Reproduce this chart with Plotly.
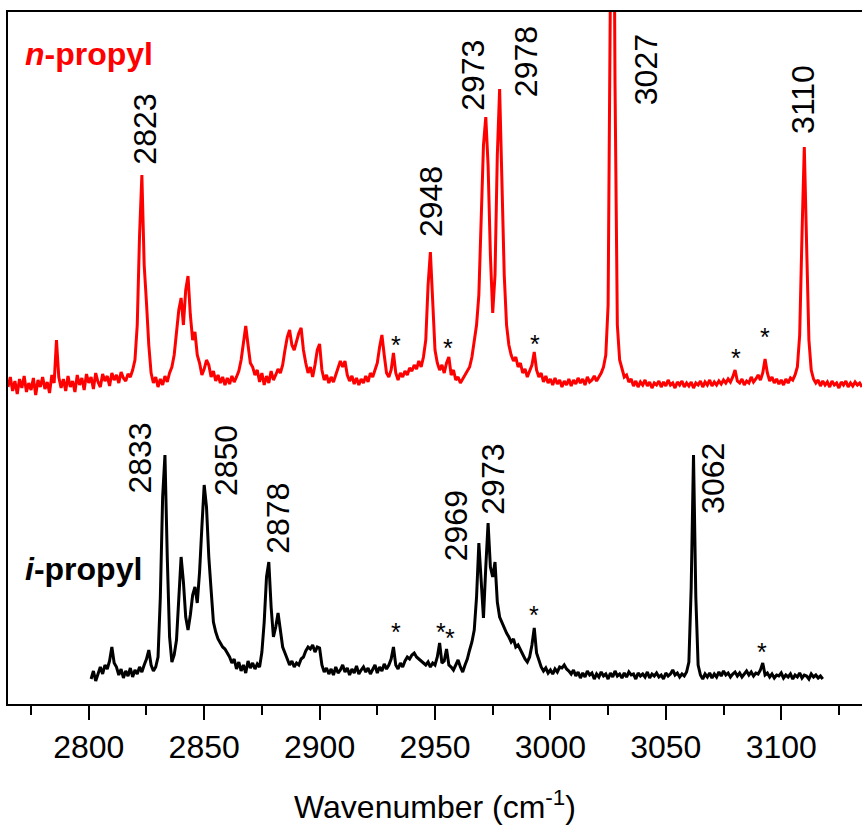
import plotly.graph_objects as go

# ---------------- data ----------------
# n-propyl spectrum: one value per cm-1 starting at 2765 cm-1 (relative intensity, a.u.)
n_start = 2765
n_propyl = [
    -2, 8, -6, 4, -9, 6, -3, 9, -7, 2,        # 2765
    -5, 7, -10, 5, -2, 8, -4, 3, -8, 10,      # 2775
    2, 45, 8, -3, 6, -6, 9, -2, 4, -7,        # 2785
    10, 0, 7, -5, 11, 2, 8, -4, 12, 3,        # 2795
    -2, 11, 4, 9, -1, 12, 5, 10, 2, 13,       # 2805
    7, 4, 11, 8, 15, 25, 60, 150, 210, 120,   # 2815
    82, 40, 12, 2, 8, -2, 6, 0, 9, 3,         # 2825
    12, 18, 30, 50, 75, 87, 60, 95, 109, 70,  # 2835
    45, 53, 30, 22, 10, 16, 25, 20, 8, 14,    # 2845
    4, 10, 2, 8, 0, 7, 1, 9, 3, 8,            # 2855
    14, 25, 45, 59, 40, 22, 18, 10, 15, 3,    # 2865
    12, 0, 9, 2, 14, 5, 10, 16, 12, 20,       # 2875
    35, 48, 55, 40, 35, 45, 52, 57, 35, 22,   # 2885
    12, 18, 8, 20, 35, 41, 15, 5, 10, 2,      # 2895
    8, 3, 10, 15, 24, 18, 24, 10, 4, 9,       # 2905
    1, 7, 0, 6, 2, 9, 3, 12, 8, 15,           # 2915
    22, 38, 50, 30, 12, 8, 15, 32, 12, 5,     # 2925
    12, 8, 14, 10, 17, 14, 20, 16, 24, 18,    # 2935
    28, 45, 100, 133, 80, 35, 22, 15, 20, 12, # 2945
    22, 28, 10, 15, 5, 8, 2, 6, 9, 14,        # 2955
    18, 28, 45, 60, 90, 170, 240, 268, 220, 130,  # 2965
    72, 110, 230, 296, 210, 110, 60, 40, 30, 24,  # 2975
    28, 18, 22, 12, 16, 8, 14, 20, 33, 15,    # 2985
    8, 12, 3, 9, 2, 6, 0, 7, 1, 5,            # 2995
    -2, 4, 0, 6, -1, 5, 1, 7, 2, 6,           # 3005
    0, 8, 3, 5, 9, 4, 8, 12, 18, 30,          # 3015
    80, 400, 720, 300, 60, 25, 15, 8, 10, 3,  # 3025
    6, -1, 4, -2, 3, 0, 5, -1, 3, -3,         # 3035
    2, 0, 4, -2, 3, -1, 5, 0, 2, -3,          # 3045
    3, 0, 4, -2, 2, -1, 3, -3, 2, 0,          # 3055
    4, -2, 3, 0, 5, -1, 3, 0, 4, 1,           # 3065
    5, 2, 6, 3, 8, 15, 4, 2, 6, 0,            # 3075
    4, 2, 8, 3, 6, 10, 5, 12, 26, 12,         # 3085
    4, 8, 2, 6, 1, 5, 0, 6, 2, 7,             # 3095
    5, 10, 18, 50, 150, 238, 140, 45, 15, 6,  # 3105
    2, 5, -1, 4, 0, 3, -2, 4, 0, 2,           # 3115
    -3, 3, 0, 4, -2, 2, -1, 3, 0, 2,          # 3125
    -2,                                       # 3135
]

# i-propyl spectrum: one value per cm-1 starting at 2801 cm-1
i_start = 2801
i_propyl = [
    -2, 6, -4, 4, 10, 3, 12, 8, 16, 30,       # 2801
    14, 10, 2, 8, -1, 6, 1, 9, 0, 7,          # 2811
    3, 10, 5, 12, 18, 27, 12, 6, 10, 20,      # 2821
    80, 180, 222, 120, 40, 15, 22, 37, 85, 120,   # 2831
    95, 60, 47, 62, 82, 90, 74, 105, 150, 192,    # 2841
    170, 120, 87, 55, 45, 38, 34, 30, 28, 24,     # 2851
    20, 14, 18, 8, 15, 6, 12, 4, 16, 9,       # 2861
    14, 8, 13, 10, 25, 55, 100, 115, 70, 40,  # 2871
    50, 64, 45, 30, 24, 18, 12, 16, 10, 14,   # 2881
    12, 18, 20, 26, 30, 28, 32, 25, 30, 29,   # 2891
    12, 5, 9, 3, 8, 2, 10, 4, 7, 12,          # 2901
    5, 9, 2, 8, 4, 11, 3, 7, 10, 5,           # 2911
    9, 3, 8, 12, 4, 10, 6, 13, 8, 12,         # 2921
    18, 30, 12, 8, 14, 10, 16, 20, 18, 22,    # 2931
    24, 20, 18, 16, 14, 12, 15, 10, 14, 12,   # 2941
    20, 34, 14, 16, 28, 12, 10, 7, 12, 17,    # 2951
    10, 5, 12, 18, 27, 35, 47, 80, 134, 90,   # 2961
    59, 110, 154, 110, 100, 115, 75, 60, 54, 50,  # 2971
    44, 40, 35, 38, 30, 32, 27, 22, 18, 15,   # 2981
    20, 32, 49, 24, 17, 10, 6, 9, 4, 7,       # 2991
    3, 8, 5, 10, 9, 12, 8, 6, 3, 7,           # 3001
    1, 5, -1, 4, 0, 6, 2, 4, -2, 3,           # 3011
    0, 5, 1, 3, -2, 4, 0, 6, 1, 3,            # 3021
    -1, 4, 0, 5, 2, 3, -2, 4, 1, 3,           # 3031
    0, 5, -1, 3, 1, 4, 0, 2, -2, 4,           # 3041
    1, 3, 7, 2, 4, 0, 3, 1, 5, 15,            # 3051
    90, 222, 80, 12, 2, -2, 3, 0, 4, -1,      # 3061
    3, 0, 5, 1, 6, 2, 4, 0, 3, 5,             # 3071
    1, 4, 0, 3, 6, 2, 5, 1, 4, 3,             # 3081
    7, 14, 2, 4, 0, 3, -1, 2, 1, 4,           # 3091
    -1, 2, 0, 3, -2, 2, 0, 4, -1, 2,          # 3101
    1, -2, 3, 0, 2, -1, 1, -2,                # 3111
]

# vertical offsets of the stacked spectra
n_offset = 319
i_offset = 27

# peak labels: (text, wavenumber, height)
n_labels = [("2823", 2824.2, 575), ("2948", 2948.3, 502), ("2973", 2966.4, 629),
            ("2978", 2989.5, 642), ("3027", 3041.5, 634), ("3110", 3109.4, 605)]
i_labels = [("2833", 2822.0, 246), ("2850", 2859.5, 243), ("2878", 2881.9, 186),
            ("2969", 2959.2, 178), ("2973", 2975.0, 225), ("3062", 3070.4, 226)]
# impurity markers (*)
n_stars = [(2932.9, 359), (2955.7, 356), (2993.5, 360), (3080.5, 346), (3093.1, 367)]
i_stars = [(2932.9, 72), (2952.7, 72), (2956.6, 66), (2992.8, 89), (3091.6, 52)]

x_ticks = [2800, 2850, 2900, 2950, 3000, 3050, 3100]

# ---------------- figure ----------------
FONT = "Liberation Sans, Arial, sans-serif"

n_x = [n_start + k for k in range(len(n_propyl))]
n_y = [v + n_offset for v in n_propyl]
i_x = [i_start + k for k in range(len(i_propyl))]
i_y = [v + i_offset for v in i_propyl]

fig = go.Figure()
fig.add_trace(go.Scatter(x=n_x, y=n_y, mode="lines", line=dict(color="#ff0000", width=3),
                         name="n-propyl", showlegend=False))
fig.add_trace(go.Scatter(x=i_x, y=i_y, mode="lines", line=dict(color="#000000", width=3),
                         name="i-propyl", showlegend=False))

ann = []
for t, x, y in n_labels + i_labels:
    ann.append(dict(x=x, y=y, xref="x", yref="y", text=t, showarrow=False, textangle=-90,
                    xanchor="center", yanchor="middle",
                    font=dict(family=FONT, size=32, color="black")))
for x, y in n_stars + i_stars:
    ann.append(dict(x=x, y=y, xref="x", yref="y", text="*", showarrow=False,
                    xanchor="center", yanchor="middle",
                    font=dict(family=FONT, size=25, color="black")))
ann.append(dict(x=2771.3, y=650, xref="x", yref="y", text="<b><i>n</i>-propyl</b>",
                showarrow=False, xanchor="left", yanchor="middle",
                font=dict(family=FONT, size=32, color="#ff0000")))
ann.append(dict(x=2771.3, y=135, xref="x", yref="y", text="<b><i>i</i>-propyl</b>",
                showarrow=False, xanchor="left", yanchor="middle",
                font=dict(family=FONT, size=32, color="black")))

fig.update_layout(
    width=862, height=825,
    margin=dict(l=8, r=0, t=12, b=121),
    paper_bgcolor="white", plot_bgcolor="white",
    annotations=ann,
    font=dict(family=FONT, size=32, color="black"),
    xaxis=dict(
        range=[2765, 3135], showgrid=False, zeroline=False,
        showline=True, linecolor="black", linewidth=2, mirror=True,
        tickmode="array", tickvals=x_ticks, ticks="outside", ticklen=14, tickwidth=2,
        tickcolor="black",
        minor=dict(dtick=25, tick0=2775, ticks="outside", ticklen=9, tickwidth=2, tickcolor="black"),
        tickfont=dict(family=FONT, size=32, color="black"),
        title=dict(text="Wavenumber (cm<sup>-1</sup>)", standoff=32,
                   font=dict(family=FONT, size=32, color="black")),
    ),
    yaxis=dict(
        range=[0, 692], showgrid=False, zeroline=False, showticklabels=False, ticks="",
        showline=True, linecolor="black", linewidth=2,
    ),
)

fig.write_html("out.html")
